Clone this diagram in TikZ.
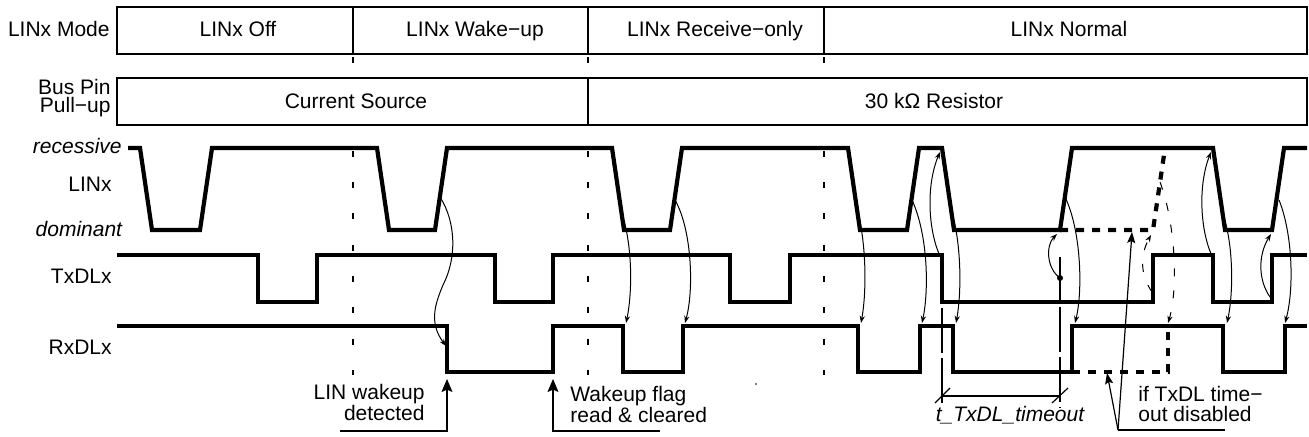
\documentclass[tikz,border=0pt]{standalone}
\usepackage{fontspec}
\setmainfont{Liberation Sans}
\usetikzlibrary{arrows.meta}
\begin{document}
\begin{tikzpicture}[x=0.5pt,y=-0.5pt,
  font=\fontsize{10.5}{12.6}\selectfont,
  lbl/.style={inner sep=0pt},
  boxline/.style={line width=0.8pt,fill=white},
  divline/.style={line width=0.8pt},
  modedash/.style={line width=0.9pt,dash pattern=on 3pt off 12.65pt},
  sigline/.style={line width=2.1pt,line join=miter},
  altsig/.style={line width=2.1pt,dash pattern=on 4pt off 4pt},
  thinarr/.style={line width=0.5pt,-{Stealth[length=3.6pt,width=2.6pt]}},
  thindash/.style={line width=0.5pt,dash pattern=on 4pt off 7pt,-{Stealth[length=3.6pt,width=2.6pt]}},
  tmdash/.style={line width=0.6pt,dash pattern=on 22.5pt off 2.5pt},
  leader/.style={line width=0.6pt},
  bigarr/.style={line width=0.6pt,-{Stealth[length=6.5pt,width=5.5pt,inset=1.2pt]}},
  midarr/.style={line width=0.6pt,-{Stealth[length=5.5pt,width=4pt,inset=1pt]}}]
\useasboundingbox (0,0) rectangle (1309,437);

% dashed mode boundaries
\draw[modedash] (353,57) -- (353,375);
\draw[modedash] (588,57) -- (588,375);
\draw[modedash] (824,57) -- (824,375);

% mode box
\draw[boxline] (117,7) rectangle (1307,54);
\draw[divline] (353,7) -- (353,54);
\draw[divline] (588,7) -- (588,54);
\draw[divline] (824,7) -- (824,54);
\node[lbl,anchor=base east] (lmode) at (110,36.7) {LINx Mode};
\node[lbl,anchor=base] (moff) at (238,36.7) {LINx Off};
\node[lbl,anchor=base] (mwake) at (475,36.7) {LINx Wake−up};
\node[lbl,anchor=base] (mrecv) at (715,36.7) {LINx Receive−only};
\node[lbl,anchor=base] (mnorm) at (1069,36.7) {LINx Normal};

% bus pin box
\draw[boxline] (117,78) rectangle (1307,125);
\draw[divline] (588,78) -- (588,125);
\node[lbl,anchor=base east] (lbus1) at (111,95) {Bus Pin};
\node[lbl,anchor=base east] (lbus2) at (111,113) {Pull−up};
\node[lbl,anchor=base] (pcur) at (356,109) {Current Source};
\node[lbl,anchor=base] (pres) at (934,109) {30 kΩ Resistor};

% signal labels
\node[lbl,anchor=base east] (lrec) at (122,154) {\itshape recessive};
\node[lbl,anchor=base east] (llin) at (112,191.7) {LINx};
\node[lbl,anchor=base east] (ldom) at (122.5,236.7) {\itshape dominant};
\node[lbl,anchor=base east] (ltxd) at (112,283.3) {TxDLx};
\node[lbl,anchor=base east] (lrxd) at (112,355) {RxDLx};

% timeout construction lines
\draw[tmdash] (942,308) -- (942,408);
\draw[tmdash] (1060,257) -- (1060,408);
\draw[leader] (942,396) -- (1060,396);
\draw[leader] (935,403) -- (950,388);
\draw[leader] (1052,403) -- (1068,388);
\node[lbl,anchor=base] (tto) at (1010,421.7) {\itshape t\_TxDL\_timeout};

% LIN
\draw[sigline] (128,148) -- (140,148) -- (152,230) -- (200,230) -- (212,148)
  -- (377,148) -- (389,230) -- (435,230) -- (447,148)
  -- (612,148) -- (624,230) -- (670,230) -- (682,148)
  -- (848,148) -- (860,230) -- (907,230) -- (919,148)
  -- (942,148) -- (954,230) -- (1060,230) -- (1072,148)
  -- (1213,148) -- (1225,230) -- (1272,230) -- (1284,148) -- (1307,148);
\draw[altsig] (1060,230) -- (1153,230) -- (1165,148);

% TxD
\draw[sigline] (117,255) -- (258,255) -- (258,302) -- (317,302) -- (317,255)
  -- (495,255) -- (495,302) -- (553,302) -- (553,255)
  -- (730,255) -- (730,302) -- (790,302) -- (790,255)
  -- (942,255) -- (942,302) -- (1153,302) -- (1153,255)
  -- (1213,255) -- (1213,302) -- (1272,302) -- (1272,255) -- (1307,255);

% RxD
\draw[sigline] (117,326) -- (447,326) -- (447,372) -- (553,372) -- (553,326)
  -- (623,326) -- (623,372) -- (683,372) -- (683,326)
  -- (858,326) -- (858,372) -- (920,372) -- (920,326)
  -- (953,326) -- (953,372) -- (1072,372) -- (1072,326)
  -- (1223,326) -- (1223,372) -- (1285,372) -- (1285,326) -- (1307,326);
\draw[altsig] (1072,372) -- (1168,372) -- (1168,326);

% causal arrows
\fill (440,197) circle (1.6);
\draw[thinarr] (440,197) .. controls (456,222) and (457,258) .. (443,285)
  .. controls (436,302) and (428,322) .. (446,346);
\draw[thinarr] (621,212) .. controls (632,240) and (633,290) .. (626,323);
\draw[thinarr] (675,200) .. controls (692,230) and (694,290) .. (685,323);
\draw[thinarr] (857,210) .. controls (866,240) and (867,290) .. (861,323);
\draw[thinarr] (912,200) .. controls (928,235) and (929,290) .. (922,323);
\draw[thinarr] (940,256) .. controls (928,230) and (926,185) .. (940,152);
\draw[thinarr] (951,210) .. controls (961,240) and (962,290) .. (956,323);
\fill (1060,278) circle (3);
\draw[thinarr] (1060,278) .. controls (1046,268) and (1046,245) .. (1057,234);
\draw[thinarr] (1065,197) .. controls (1081,230) and (1083,290) .. (1075,323);
\draw[thinarr] (1212,256) .. controls (1200,230) and (1198,185) .. (1211,152);
\draw[thinarr] (1222,212) .. controls (1233,240) and (1234,290) .. (1227,323);
\draw[thinarr] (1270,297) .. controls (1258,280) and (1258,255) .. (1271,234);
\draw[thinarr] (1279,200) .. controls (1293,235) and (1294,290) .. (1285,323);
\draw[thindash] (1152,292) .. controls (1140,275) and (1140,255) .. (1151,235);
\draw[thindash] (1160,182) .. controls (1176,225) and (1178,290) .. (1168,323);

% annotations
\node[lbl,anchor=base east] (wk1) at (425,400) {LIN wakeup};
\node[lbl,anchor=base east] (wk2) at (425,421) {detected};
\draw[bigarr] (340,431) -- (447,431) -- (447,379);
\node[lbl,anchor=base west] (wf1) at (570,401.7) {Wakeup flag};
\node[lbl,anchor=base west] (wf2) at (570,422.7) {read \& cleared};
\draw[bigarr] (660,431) -- (553,431) -- (553,379);
\node[lbl,anchor=base west] (td1) at (1138,401.7) {if TxDL time−};
\node[lbl,anchor=base west] (td2) at (1138,421.7) {out disabled};
\coordinate (tdroot) at (1118,430);
\draw[leader] (tdroot) -- (1225,430);
\draw[midarr] (tdroot) -- (1132,232);
\draw[midarr] (tdroot) -- (1107,373);
\fill (756,384) circle (0.8);
\end{tikzpicture}
\end{document}
